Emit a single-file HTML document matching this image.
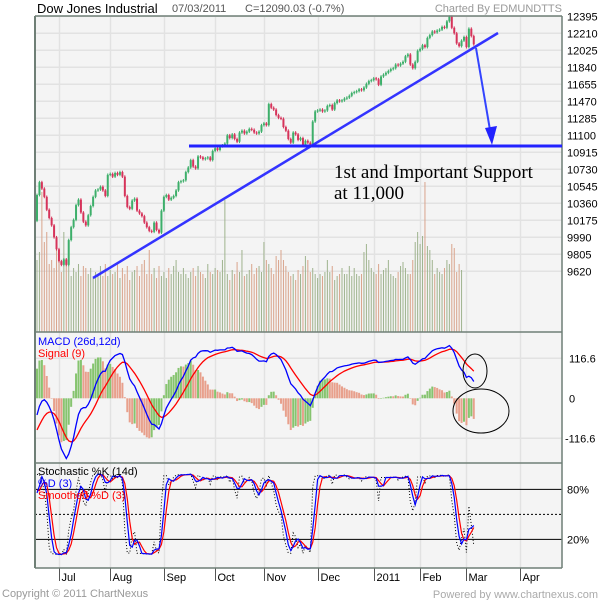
<!DOCTYPE html>
<html><head><meta charset="utf-8"><style>
html,body{margin:0;padding:0;background:#fff;}
svg{display:block;font-family:"Liberation Sans",Arial,sans-serif;}
</style></head><body>
<svg id="chart" width="600" height="600" viewBox="0 0 600 600" xmlns="http://www.w3.org/2000/svg">
<rect x="0" y="0" width="600" height="600" fill="#ffffff"/>
<rect x="35" y="16" width="527" height="552" fill="#f4f4f4"/>
<g id="grid"></g>
<g id="vol"></g>
<g id="candles"></g>
<g id="macd"></g>
<g id="stoch"></g>
<g id="axes"></g>
<g id="annot">
<line x1="93" y1="278" x2="498" y2="33" stroke="#3333ff" stroke-width="2.5"/>
<line x1="189" y1="146" x2="562" y2="146" stroke="#2222ff" stroke-width="3"/>
<line x1="476" y1="48" x2="490" y2="130" stroke="#3344ff" stroke-width="2"/>
<polygon points="485,128 497,126 492,145" fill="#2222ff"/>
<text x="334" y="178" font-family="'Liberation Serif',serif" font-size="19" fill="#000">1st and Important Support</text>
<text x="334" y="199" font-family="'Liberation Serif',serif" font-size="19" fill="#000">at 11,000</text>
<ellipse cx="475" cy="371" rx="12" ry="17" fill="none" stroke="#000" stroke-width="1"/>
<ellipse cx="481" cy="411" rx="28" ry="22" fill="none" stroke="#000" stroke-width="1"/>
</g>
<text x="37" y="13" font-size="13" fill="#000">Dow Jones Industrial</text>
<text x="172" y="12" font-size="11" fill="#555">07/03/2011</text>
<text x="245" y="12" font-size="11" fill="#555">C=12090.03 (-0.7%)</text>
<text x="562" y="12" font-size="11" fill="#999" text-anchor="end">Charted By EDMUNDTTS</text>
<text x="38" y="345" font-size="11" fill="#0000ff">MACD (26d,12d)</text>
<text x="38" y="357" font-size="11" fill="#ff0000">Signal (9)</text>
<text x="38" y="475" font-size="11" fill="#000">Stochastic %K (14d)</text>
<text x="38" y="487" font-size="11" fill="#0000ff">%D (3)</text>
<text x="38" y="499" font-size="11" fill="#ff0000">Smoothed %D (3)</text>
<text x="2" y="597" font-size="11" fill="#999">Copyright © 2011 ChartNexus</text>
<text x="598" y="598" font-size="11" fill="#aaa" text-anchor="end">Powered by www.chartnexus.com</text>
</svg>
<script>
const warmup = [10900,10780,10620,10520,10380,10420,10620,10780,10900,10620,10510,10440,10070,10250,9970,10040,10260,10130,9930,9815,9940,10170,10250,10400,10430,10450,10410,10440,10290,10170];
const closes = [10450,10590,10520,10430,10290, 10200,10120,9990,9860,9730, 9690,9750,9690,9960,10100,
10180,10340,10400,10260,10160, 10120,10230,10330,10430,10500, 10510,10540,10500,10440,10670,
10680,10650,10690,10670,10700, 10650,10440,10320,10300,10390, 10410,10280,10250,10220,10150,
10100,10060,10050,10150,10070, 10040,10280,10430,10450,10400, 10420,10440,10500,10590,10600,
10610,10700,10750,10830,10760, 10740,10870,10860,10840,10850, 10860,10830,10930,10960,10940,
10980,10990,11010,11100,11070, 11110,11060,11030,11130,11150, 11120,11140,11170,11160,11130,
11120,11140,11210,11230,11210, 11440,11400,11380,11320,11290, 11280,11190,11150,11060,11020,
11130,11110,11050,11070,11000, 11040,11020,10990,11250,11360, 11370,11380,11360,11370,11420,
11430,11380,11450,11480,11470, 11480,11500,11510,11530,11560, 11570,11580,11600,11590,11620,
11660,11690,11700,11720,11710, 11650,11740,11760,11780,11800, 11820,11830,11870,11860,11880,
11900,11960,11980,11870,11830, 11900,12020,12040,12080,12060, 12160,12190,12230,12220,12240,
12250,12280,12270,12340,12390, 12270,12210,12100,12070,12130, 12170,12060,12260,12180,12090];
const volumes = [72,80,140,90,100, 68,72,64,88,78, 60,100,68,82,56, 64,60,68,56,66, 64,58,64,54,60, 56,66,56,68,56,
62,58,60,68,54, 64,58,66,52,60, 62,66,56,68,72, 58,82,58,64,54, 66,56,60,54,64, 58,66,72,60,58,
64,58,54,60,64, 56,66,60,58,54, 68,60,58,64,62, 60,72,132,58,52, 62,58,70,60,82, 56,58,62,68,58,
64,66,60,90,72, 68,64,58,76,72, 82,72,66,60,56, 58,52,62,58,66, 76,72,60,64,58, 54,58,56,60,72,
60,66,52,56,58, 64,58,58,66,56, 64,58,56,58,80, 88,72,64,60,58, 68,58,62,64,72, 58,56,54,60,66,
70,64,58,58,72, 90,100,88,96,150, 86,82,72,58,64, 60,58,64,72,68, 88,84,60,68,62];
const priceTicks = [12395,12210,12025,11840,11655,11470,11285,11100,10915,10730,10545,10360,10175,9990,9805,9620];
const macdTicks = [116.6,0,-116.6];
const stochTicks = [80,20];
const monthLabels = ["Jul","Aug","Sep","Oct","Nov","Dec","2011","Feb","Mar","Apr"];
const monthStartIndex = [9,30,52,73,93,115,138,157,176,198];

const NS="http://www.w3.org/2000/svg";
function mk(tag,attrs,parent){const e=document.createElementNS(NS,tag);for(const k in attrs)e.setAttribute(k,attrs[k]);parent.appendChild(e);return e;}
const X0=37, DX=2.44;
function xOf(i){return X0+i*DX;}
function yPrice(p){return 16.3+(12395-p)*17/185;}
function yMacd(v){return 398.3-v*40/116.6;}
function yHist(v){return 398.3-v*2*40/116.6;}
function yStoch(v){return 556-v*0.8333;}

const grid=document.getElementById('grid');
priceTicks.forEach(function(p){const y=yPrice(p);
 const l=mk('line',{x1:35,x2:562,y1:y,y2:y,stroke:'#e2e2e2','stroke-width':1.5},grid);
 
 
 const t=mk('text',{x:567,y:y+4,'font-size':11,fill:'#000'},grid);t.textContent=p;
 
 
});
macdTicks.forEach(function(v){const y=yMacd(v);
 if(v!==0){const l=mk('line',{x1:35,x2:562,y1:y,y2:y,stroke:'#e2e2e2','stroke-width':1.5},grid);
 
 }
 const t=mk('text',{x:v<0?565:569,y:y+4,'font-size':11,fill:'#000'},grid);t.textContent=v;
 
 
});
monthStartIndex.forEach(function(idx,k){const x=Math.round(xOf(idx))+0.5;
 const l=mk('line',{x1:x,x2:x,y1:16,y2:568,stroke:'#e2e2e2','stroke-width':1.5},grid);
 
 
 const tk=mk('line',{x1:x,x2:x,y1:568,y2:581,stroke:'#555','stroke-width':1},grid);
 
 
 const t=mk('text',{x:x+2,y:581,'font-size':11,fill:'#000'},grid);t.textContent=monthLabels[k];
 
 
});

const all=warmup.concat(closes);const W=warmup.length;
const opens=all.map(function(c,i){return i?all[i-1]:c;});
const highs=all.map(function(c,i){return Math.max(c,opens[i])+15;});
const lows=all.map(function(c,i){return Math.min(c,opens[i])-15;});

const vol=document.getElementById('vol');
volumes.forEach(function(v,i){const x=xOf(i);const up=closes[i]>=opens[W+i];
 const r=mk('rect',{x:x-0.5,y:332-v,width:1,height:v,fill:up?'#9fb38e':'#d9a48c'},vol);
 
 
});
const cg=document.getElementById('candles');
closes.forEach(function(c,i){const j=W+i;const x=xOf(i);const o=opens[j];const up=c>=o;const col=up?'#3daf6a':'#d6335a';
 const w=mk('line',{x1:x,x2:x,y1:yPrice(highs[j]),y2:yPrice(lows[j]),stroke:col,'stroke-width':1},cg);
 
 
 const y1=yPrice(Math.max(o,c)),y2=yPrice(Math.min(o,c));
 const b=mk('rect',{x:x-1,y:y1,width:2,height:Math.max(1,y2-y1),fill:col},cg);
 
 
});

function ema(a,n){const k=2/(n+1);const r=[];a.forEach(function(v,i){r.push(i?r[i-1]+k*(v-r[i-1]):v);});return r;}
const e12=ema(all,12),e26=ema(all,26);
const macdAll=e12.map(function(v,i){return v-e26[i];});
const sigAll=ema(macdAll,9);
const mg=document.getElementById('macd');
closes.forEach(function(c,i){const j=W+i;const h=macdAll[j]-sigAll[j];const ph=macdAll[j-1]-sigAll[j-1];
 const y=yHist(h);const col=h>ph?'#86c46f':'#e8a08c';
 const r=mk('rect',{x:xOf(i)-1,y:Math.min(y,398.3),width:2,height:Math.max(0.5,Math.abs(y-398.3)),fill:col},mg);
 
 
});
function poly(arr,f,col,name,dash,parent,sw){let d='';arr.forEach(function(v,i){d+=(i?'L':'M')+xOf(i).toFixed(1)+' '+f(v).toFixed(1);});
 const p=mk('path',{d:d,fill:'none',stroke:col,'stroke-width':sw},parent);if(dash)p.setAttribute('stroke-dasharray',dash);
 
 }
poly(sigAll.slice(W),yMacd,'#ff0000','signal-line',null,mg,1.3);
poly(macdAll.slice(W),yMacd,'#0000ff','macd-line',null,mg,1.3);

const sg=document.getElementById('stoch');
[[80,'#000',null],[20,'#000',null],[50,'#000','2,2']].forEach(function(a){const y=yStoch(a[0]);
 const l=mk('line',{x1:35,x2:562,y1:y,y2:y,stroke:a[1],'stroke-width':1},sg);if(a[2])l.setAttribute('stroke-dasharray',a[2]);
 
 });
stochTicks.forEach(function(v){const t=mk('text',{x:567,y:yStoch(v)+4,'font-size':11,fill:'#000'},sg);t.textContent=v+'%';
 
 });
const K=all.map(function(c,i){const s=Math.max(0,i-13);let hh=-1e9,ll=1e9;for(let k=s;k<=i;k++){hh=Math.max(hh,highs[k]);ll=Math.min(ll,lows[k]);}return 100*(c-ll)/(hh-ll);});
function sma(a,n){return a.map(function(v,i){let s=0,c=0;for(let k=Math.max(0,i-n+1);k<=i;k++){s+=a[k];c++;}return s/c;});}
const Dp=sma(K,3),SD=sma(Dp,3);
poly(K.slice(W),yStoch,'#000','stoch-k-line','1,2',sg,1);
poly(SD.slice(W),yStoch,'#ff0000','smoothed-d-line',null,sg,1.2);
poly(Dp.slice(W),yStoch,'#0000ff','stoch-d-line',null,sg,1.2);

const ax=document.getElementById('axes');
[[35,16,562,16],[35,332,562,332],[35,463,562,463],[35,568,562,568],[562,16,562,568]].forEach(function(a){
 const l=mk('line',{x1:a[0],y1:a[1],x2:a[2],y2:a[3],stroke:'#6f7f76','stroke-width':1.5},ax);
 
 });
const lb=mk('line',{x1:35,y1:16,x2:35,y2:568,stroke:'#6f7f76','stroke-width':2},ax);


</script>
</body></html>
